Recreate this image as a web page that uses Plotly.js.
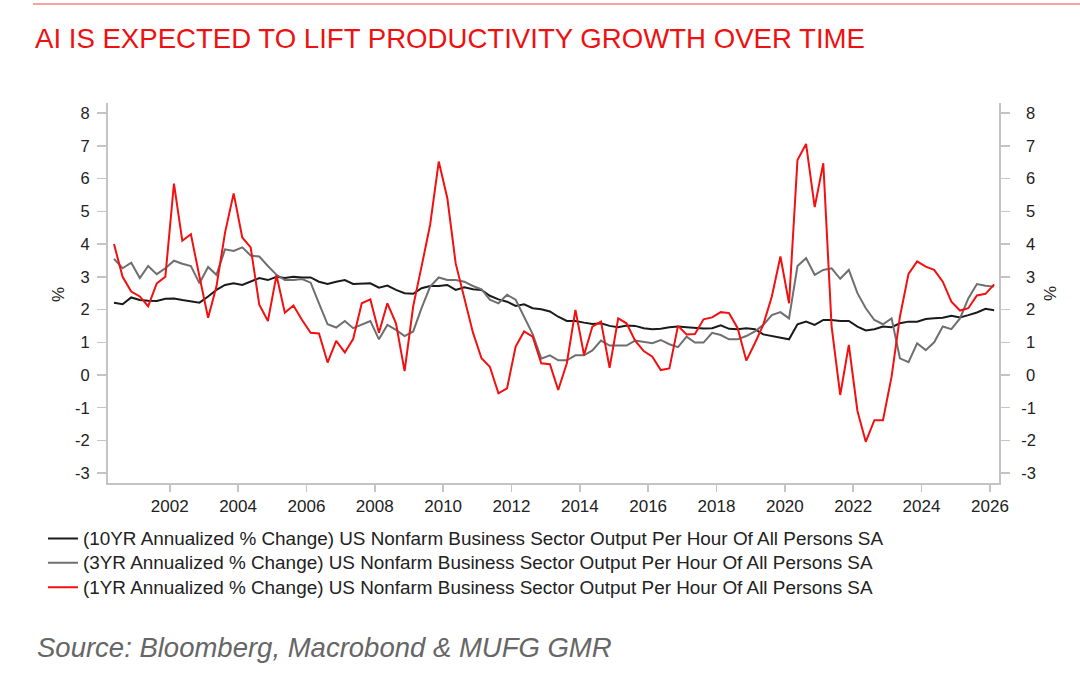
<!DOCTYPE html>
<html>
<head>
<meta charset="utf-8">
<script src="https://cdn.plot.ly/plotly-3.0.1.min.js"></script>
<style>
  html, body { margin: 0; padding: 0; background: #fff; }
  #chart { width: 1080px; height: 684px; }
</style>
</head>
<body>
<div id="chart"></div>
<script>
// quarterly points, 2000 Q2 .. 2026 Q1 (mid-quarter)
const startYear = 2000;
const startMonth = 5;
const nQuarters = 104;

// 10YR annualized % change
const tenYr = [2.21, 2.16, 2.37, 2.29, 2.27, 2.26, 2.33, 2.34, 2.29, 2.26,
  2.21, 2.4, 2.6, 2.75, 2.8, 2.75, 2.85, 2.96, 2.9, 3.0,
  2.96, 3.0, 2.98, 2.98, 2.85, 2.78, 2.85, 2.9, 2.78, 2.78,
  2.8, 2.67, 2.73, 2.6, 2.5, 2.48, 2.65, 2.72, 2.72, 2.75,
  2.6, 2.68, 2.62, 2.6, 2.42, 2.31, 2.24, 2.11, 2.16, 2.04,
  2.01, 1.94, 1.78, 1.65, 1.65, 1.6, 1.56, 1.58, 1.5, 1.46,
  1.51, 1.5, 1.43, 1.4, 1.41, 1.46, 1.48, 1.46, 1.43, 1.42,
  1.43, 1.52, 1.41, 1.4, 1.43, 1.4, 1.24, 1.19, 1.15, 1.09,
  1.55, 1.63, 1.53, 1.68, 1.68, 1.65, 1.65, 1.48, 1.36, 1.4,
  1.48, 1.46, 1.58, 1.63, 1.63, 1.71, 1.73, 1.75, 1.81, 1.76,
  1.83, 1.91, 2.02, 1.98];

// 3YR annualized % change
const threeYr = [3.55, 3.26, 3.43, 2.96, 3.33, 3.08, 3.26, 3.49, 3.4, 3.33,
  2.8, 3.3, 3.06, 3.84, 3.79, 3.9, 3.65, 3.62, 3.33, 3.06,
  2.9, 2.9, 2.93, 2.82, 2.19, 1.55, 1.45, 1.65, 1.43, 1.53,
  1.65, 1.09, 1.53, 1.38, 1.19, 1.33, 2.04, 2.7, 2.98, 2.9,
  2.9, 2.85, 2.72, 2.62, 2.3, 2.19, 2.45, 2.3, 1.8, 1.25,
  0.5, 0.6, 0.45, 0.45, 0.6, 0.6, 0.75, 1.05, 0.9, 0.9,
  0.9, 1.05, 1.0, 0.97, 1.07, 0.94, 0.85, 1.17, 0.99, 0.99,
  1.29, 1.22, 1.09, 1.09, 1.19, 1.33, 1.53, 1.83, 1.92, 1.73,
  3.33, 3.57, 3.06, 3.21, 3.26, 2.94, 3.21, 2.5, 2.04, 1.68,
  1.55, 1.73, 0.51, 0.39, 0.97, 0.76, 1.0, 1.48, 1.4, 1.73,
  2.34, 2.78, 2.73, 2.7];

// 1YR annualized % change
const oneYr = [4.0, 3.0, 2.55, 2.4, 2.1, 2.8, 3.0, 5.85, 4.1, 4.3,
  3.0, 1.75, 2.7, 4.35, 5.55, 4.2, 3.9, 2.15, 1.65, 3.05,
  1.9, 2.12, 1.68, 1.29, 1.27, 0.38, 1.04, 0.69, 1.1, 2.19,
  2.31, 1.29, 2.19, 1.58, 0.12, 2.1, 3.31, 4.59, 6.52, 5.4,
  3.41, 2.4, 1.3, 0.51, 0.25, -0.56, -0.41, 0.87, 1.33, 1.17,
  0.36, 0.33, -0.46, 0.36, 1.99, 0.61, 1.48, 1.63, 0.22, 1.73,
  1.58, 1.05, 0.73, 0.56, 0.15, 0.2, 1.5, 1.24, 1.25, 1.7,
  1.76, 1.92, 1.89, 1.43, 0.44, 0.97, 1.53, 2.4, 3.62, 2.19,
  6.57, 7.06, 5.13, 6.47, 1.48, -0.61, 0.92, -1.1, -2.04, -1.38,
  -1.38, -0.05, 1.78, 3.09, 3.47, 3.31, 3.21, 2.85, 2.24, 1.97,
  2.04, 2.43, 2.48, 2.77];

const seriesNames = [
  '(10YR Annualized % Change) US Nonfarm Business Sector Output Per Hour Of All Persons SA',
  '(3YR Annualized % Change) US Nonfarm Business Sector Output Per Hour Of All Persons SA',
  '(1YR Annualized % Change) US Nonfarm Business Sector Output Per Hour Of All Persons SA'
];
const yTicks = [-3, -2, -1, 0, 1, 2, 3, 4, 5, 6, 7, 8];
const yTickText = ['-3', '-2', '-1', '0', '1', '2', '3', '4', '5', '6', '7', '8'];
// right axis labels are right-aligned in the original, pad the short ones
const yTickTextRight = yTickText.map(t => (t.length < 2 ? '\u00a0' + t : t));

const dates = [];
for (let i = 0; i < nQuarters; i++) {
  const m = startMonth - 1 + i * 3;
  const y = startYear + Math.floor(m / 12);
  const mm = String((m % 12) + 1).padStart(2, '0');
  dates.push(y + '-' + mm + '-15');
}

const FONT = 'Liberation Sans, Arial, sans-serif';
// legend text drawn a bit larger than the row spacing would give
const legName = s => '<span style="font-size:18.9px">' + s + '</span>';

const traces = [
  { x: dates, y: tenYr, name: legName(seriesNames[0]), type: 'scatter', mode: 'lines',
    line: { color: '#1a1a1a', width: 2 } },
  { x: dates, y: threeYr, name: legName(seriesNames[1]), type: 'scatter', mode: 'lines',
    line: { color: '#6f6f6f', width: 2 } },
  { x: dates, y: oneYr, name: legName(seriesNames[2]), type: 'scatter', mode: 'lines',
    line: { color: '#f21010', width: 2 } },
  // hidden copy so the right-hand axis gets drawn
  { x: dates, y: tenYr, yaxis: 'y2', type: 'scatter', mode: 'lines',
    line: { width: 0 }, opacity: 0, showlegend: false, hoverinfo: 'skip' }
];

const yAxisBase = {
  range: [-3.3, 8.31],
  tickmode: 'array',
  tickvals: yTicks,
  showgrid: false,
  zeroline: false,
  showline: true,
  linecolor: '#c4c4c4',
  linewidth: 2,
  ticks: 'outside',
  ticklen: 9,
  tickwidth: 1.5,
  tickcolor: '#c4c4c4',
  tickfont: { family: FONT, size: 16.5, color: '#222' }
};

const layout = {
  width: 1080,
  height: 684,
  margin: { l: 108, r: 81, t: 103, b: 201 },
  paper_bgcolor: '#fff',
  plot_bgcolor: '#fff',
  showlegend: true,
  title: {
    text: 'AI IS EXPECTED TO LIFT PRODUCTIVITY GROWTH OVER TIME',
    font: { family: FONT, size: 27.6, color: '#ee1111' },
    x: 0.0324, xref: 'container', xanchor: 'left',
    y: 0.944, yref: 'container', yanchor: 'middle'
  },
  xaxis: {
    type: 'date',
    range: ['2000-03-12', '2026-04-08'],
    tick0: '2002-01-01',
    dtick: 'M24',
    tickformat: '%Y',
    showgrid: false,
    zeroline: false,
    showline: true,
    linecolor: '#c4c4c4',
    linewidth: 2,
    ticks: 'outside',
    ticklen: 7,
    tickwidth: 1.5,
    tickcolor: '#c4c4c4',
    ticklabelstandoff: 0,
    tickfont: { family: FONT, size: 17, color: '#222' }
  },
  yaxis: Object.assign({}, yAxisBase, { ticktext: yTickText, ticklabelstandoff: 4 }),
  yaxis2: Object.assign({}, yAxisBase, {
    ticktext: yTickTextRight,
    overlaying: 'y', side: 'right', ticklabelstandoff: 8
  }),
  legend: {
    x: -0.073, xanchor: 'left',
    y: -0.1005, yanchor: 'top',
    orientation: 'v',
    itemwidth: 30,
    tracegroupgap: 0,
    bgcolor: 'rgba(0,0,0,0)',
    font: { family: FONT, size: 16.5, color: '#222' }
  },
  shapes: [
    { type: 'line', xref: 'paper', yref: 'paper',
      x0: -0.0842, x1: 1.091, y0: 1.2605, y1: 1.2605,
      line: { color: '#f5a3a3', width: 2 } }
  ],
  annotations: [
    { text: '%', xref: 'paper', yref: 'paper', x: -0.056, y: 0.4947,
      xanchor: 'center', yanchor: 'middle',
      showarrow: false, textangle: -90,
      font: { family: FONT, size: 17, color: '#222' } },
    { text: '%', xref: 'paper', yref: 'paper', x: 1.0572, y: 0.5,
      xanchor: 'center', yanchor: 'middle',
      showarrow: false, textangle: -90,
      font: { family: FONT, size: 17, color: '#222' } },
    { text: '<i>Source: Bloomberg, Macrobond & MUFG GMR</i>',
      xref: 'paper', yref: 'paper', x: -0.0819, y: -0.4329,
      xanchor: 'left', yanchor: 'middle', showarrow: false,
      font: { family: FONT, size: 27.5, color: '#666' } }
  ]
};

Plotly.newPlot('chart', traces, layout, { displayModeBar: false, staticPlot: true });
</script>
</body>
</html>
